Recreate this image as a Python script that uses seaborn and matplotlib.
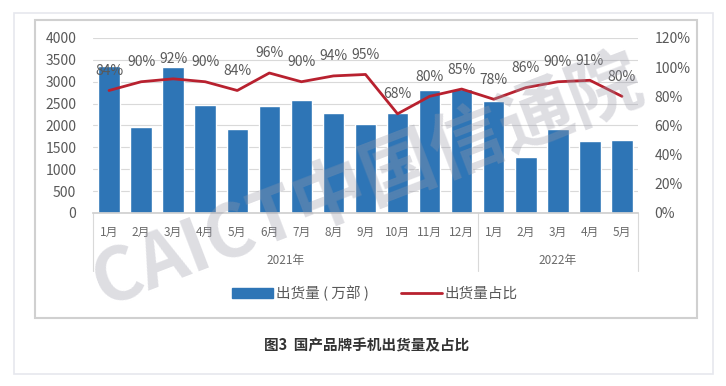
import pandas as pd
import seaborn as sns
import matplotlib.pyplot as plt
from matplotlib.patches import Rectangle, Patch
from matplotlib.lines import Line2D
import matplotlib.transforms as mtransforms

# datos
meses = ['1月', '2月', '3月', '4月', '5月', '6月', '7月', '8月', '9月', '10月', '11月', '12月',
         '1月', '2月', '3月', '4月', '5月']
anios = ['2021年', '2022年']
meses_por_anio = [12, 5]
envios = [3370, 1960, 3340, 2470, 1930, 2455, 2585, 2280, 2030, 2280, 2800, 2845,
          2570, 1280, 1920, 1640, 1660]
porcentaje = [84, 90, 92, 90, 84, 96, 90, 94, 95, 68, 80, 85, 78, 86, 90, 91, 80]

df = pd.DataFrame({'idx': range(len(meses)), 'mes': meses,
                   'envios': envios, 'pct': [p / 100 for p in porcentaje]})

sns.set_theme(style='white')
plt.rcParams['font.family'] = ['Noto Sans CJK SC', 'DejaVu Sans']

azul = '#2E75B6'
rojo = '#B8212F'
gris = '#595959'

fig = plt.figure(figsize=(7.26, 3.86), dpi=100)
W, H = 726, 386

# marco exterior y marco interior
fig.patches.append(Rectangle((14 / W, 1 - 374 / H), (713 - 14) / W, (374 - 13) / H,
                             transform=fig.transFigure, fill=False, ec='#e6e8ee', lw=1.2))
fig.patches.append(Rectangle((35 / W, 1 - 318 / H), (697 - 35) / W, (318 - 20) / H,
                             transform=fig.transFigure, fill=False, ec='#d0d0d0', lw=1.5))

ax = fig.add_axes([93 / W, 1 - 213 / H, (638 - 93) / W, 175 / H])
sns.barplot(data=df, x='idx', y='envios', color=azul, width=0.67, saturation=1, ax=ax)
ax.set_ylim(0, 4000)
ax.set_xlim(-0.5, len(meses) - 0.5)
ax.set_yticks(range(0, 4001, 500))
ax.set_yticklabels([str(v) for v in range(0, 4001, 500)], fontsize=10, color=gris)
ax.yaxis.grid(True, color='#d9d9d9', lw=0.8)
ax.set_axisbelow(True)
ax.set_xticks([])
ax.set_xlabel('')
ax.set_ylabel('')
for s in ['top', 'right', 'left']:
    ax.spines[s].set_visible(False)
ax.spines['bottom'].set_color('#d0d0d0')
ax.tick_params(axis='y', length=0, pad=12)

ax2 = ax.twinx()
sns.lineplot(data=df, x='idx', y='pct', color=rojo, lw=2, ax=ax2)
ax2.set_ylim(0, 1.2)
ax2.set_yticks([i / 10 for i in range(0, 13, 2)])
ax2.set_yticklabels([f'{i * 10}%' for i in range(0, 13, 2)], fontsize=10, color=gris)
ax2.tick_params(axis='y', length=0, pad=12)
ax2.set_ylabel('')
ax2.set_xlabel('')
for s in ['top', 'right', 'left', 'bottom']:
    ax2.spines[s].set_visible(False)
for i, p in enumerate(porcentaje):
    ax2.annotate(f'{p}%', (i, p / 100), xytext=(0, 9), textcoords='offset points',
                 ha='center', va='bottom', fontsize=10, color=gris)

# eje de categorias en dos niveles
tr = mtransforms.blended_transform_factory(ax.transData, ax.transAxes)
for i, m in enumerate(meses):
    ax.text(i, -0.109, m, transform=tr, ha='center', va='center', fontsize=8.5, color='#6a6a6a')
inicio = -0.5
ax.plot([inicio, inicio], [0, -0.33], transform=tr, color='#d9d9d9', lw=0.8, clip_on=False)
for a, n in zip(anios, meses_por_anio):
    fin = inicio + n
    ax.text((inicio + fin) / 2, -0.269, a, transform=tr, ha='center', va='center',
            fontsize=8.5, color='#6a6a6a')
    ax.plot([fin, fin], [0, -0.33], transform=tr, color='#d9d9d9', lw=0.8, clip_on=False)
    inicio = fin

# marca de agua
fig.text(368 / W, 1 - 182 / H, 'CAICT中国信通院', fontsize=53, fontweight='bold',
         color='#9a9aa8', alpha=0.33, rotation=21, ha='center', va='center')

# leyenda
handles = [Patch(color=azul, label='出货量 ( 万部 )'),
           Line2D([0], [0], color=rojo, lw=2, label='出货量占比')]
fig.legend(handles=handles, loc='center', bbox_to_anchor=(375 / W, 1 - 293 / H), ncol=2,
           frameon=False, fontsize=10.5, labelcolor=gris, handlelength=2.8, columnspacing=2.2,
           handletextpad=0.2)

fig.text(367 / W, 1 - 345 / H, '图3  国产品牌手机出货量及占比', ha='center', va='center',
         fontsize=10.5, fontweight='bold', color='#333333')

plt.savefig('out.png', dpi=100)
